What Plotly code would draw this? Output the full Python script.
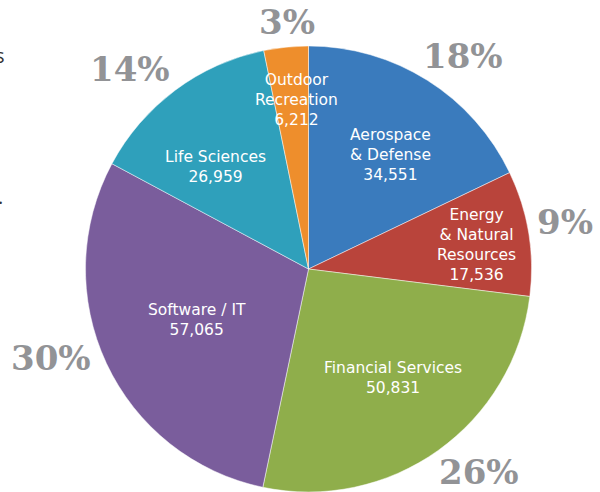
import math
import plotly.graph_objects as go

# data
sectors = ["Aerospace<br>& Defense", "Energy<br>& Natural<br>Resources", "Financial Services",
           "Software / IT", "Life Sciences", "Outdoor<br>Recreation"]
jobs = [34551, 17536, 50831, 57065, 26959, 6212]
colors = ["#3a7bbd", "#b9443b", "#8fae4b", "#7a5d9c", "#2fa0bb", "#ee8e2c"]

# label placement (fraction of radius, angle tweak in degrees)
in_r = [0.63, 0.76, 0.62, 0.55, 0.62, 0.76]
in_da = [3.5, 1.1, -2.1, 0.3, -5.6, 1.6]
out_r = [1.18, 1.17, 1.19, 1.22, 1.20, 1.11]
out_da = [3.7, -1.2, -4.5, 6.0, -5.0, 0.7]

W, H = 600, 492
cx, cy, R = 308.5, 269, 223

fig = go.Figure(go.Pie(
    labels=[s.replace("<br>", " ") for s in sectors],
    values=jobs,
    sort=False,
    direction="clockwise",
    rotation=0,
    marker=dict(colors=colors, line=dict(color="rgba(255,255,255,0.6)", width=0.8)),
    textinfo="none",
    hoverinfo="label+value+percent",
    domain=dict(x=[(cx - R) / W, (cx + R) / W], y=[(H - (cy + R)) / H, (H - (cy - R)) / H]),
    showlegend=False,
))

total = sum(jobs)
start = 0.0
annotations = []
for i, v in enumerate(jobs):
    span = v / total * 360
    mid = start + span / 2
    start += span
    # inside label
    a = math.radians(mid + in_da[i])
    px = cx + in_r[i] * R * math.sin(a)
    py = cy - in_r[i] * R * math.cos(a)
    annotations.append(dict(
        x=px / W, y=1 - py / H, xref="paper", yref="paper", showarrow=False,
        xanchor="center", yanchor="middle",
        text=f"{sectors[i]}<br>{v:,}", align="center",
        font=dict(family="DejaVu Sans, Open Sans, sans-serif", size=15.5, color="white"),
    ))
    # percent label
    a = math.radians(mid + out_da[i])
    px = cx + out_r[i] * R * math.sin(a)
    py = cy - out_r[i] * R * math.cos(a)
    annotations.append(dict(
        x=px / W, y=1 - py / H, xref="paper", yref="paper", showarrow=False,
        xanchor="center", yanchor="middle",
        text=f"<b>{round(v / total * 100)}%</b>",
        font=dict(family="DejaVu Serif", size=34, color="#929396"),
    ))

# cut-off fragments at the left edge
annotations.append(dict(x=0.0, y=1 - 55 / H, xref="paper", yref="paper", showarrow=False,
                        xanchor="center", yanchor="middle", text="s",
                        font=dict(family="Open Sans", size=20, color="#333333")))
annotations.append(dict(x=0.0, y=1 - 196 / H, xref="paper", yref="paper", showarrow=False,
                        xanchor="center", yanchor="middle", text=".",
                        font=dict(family="Open Sans", size=20, color="#333333")))

fig.update_layout(
    width=W, height=H,
    margin=dict(l=0, r=0, t=0, b=0),
    paper_bgcolor="white",
    plot_bgcolor="white",
    annotations=annotations,
)

fig.write_html("out.html", config={"displayModeBar": False},
               post_script="document.body.style.margin='0';")
